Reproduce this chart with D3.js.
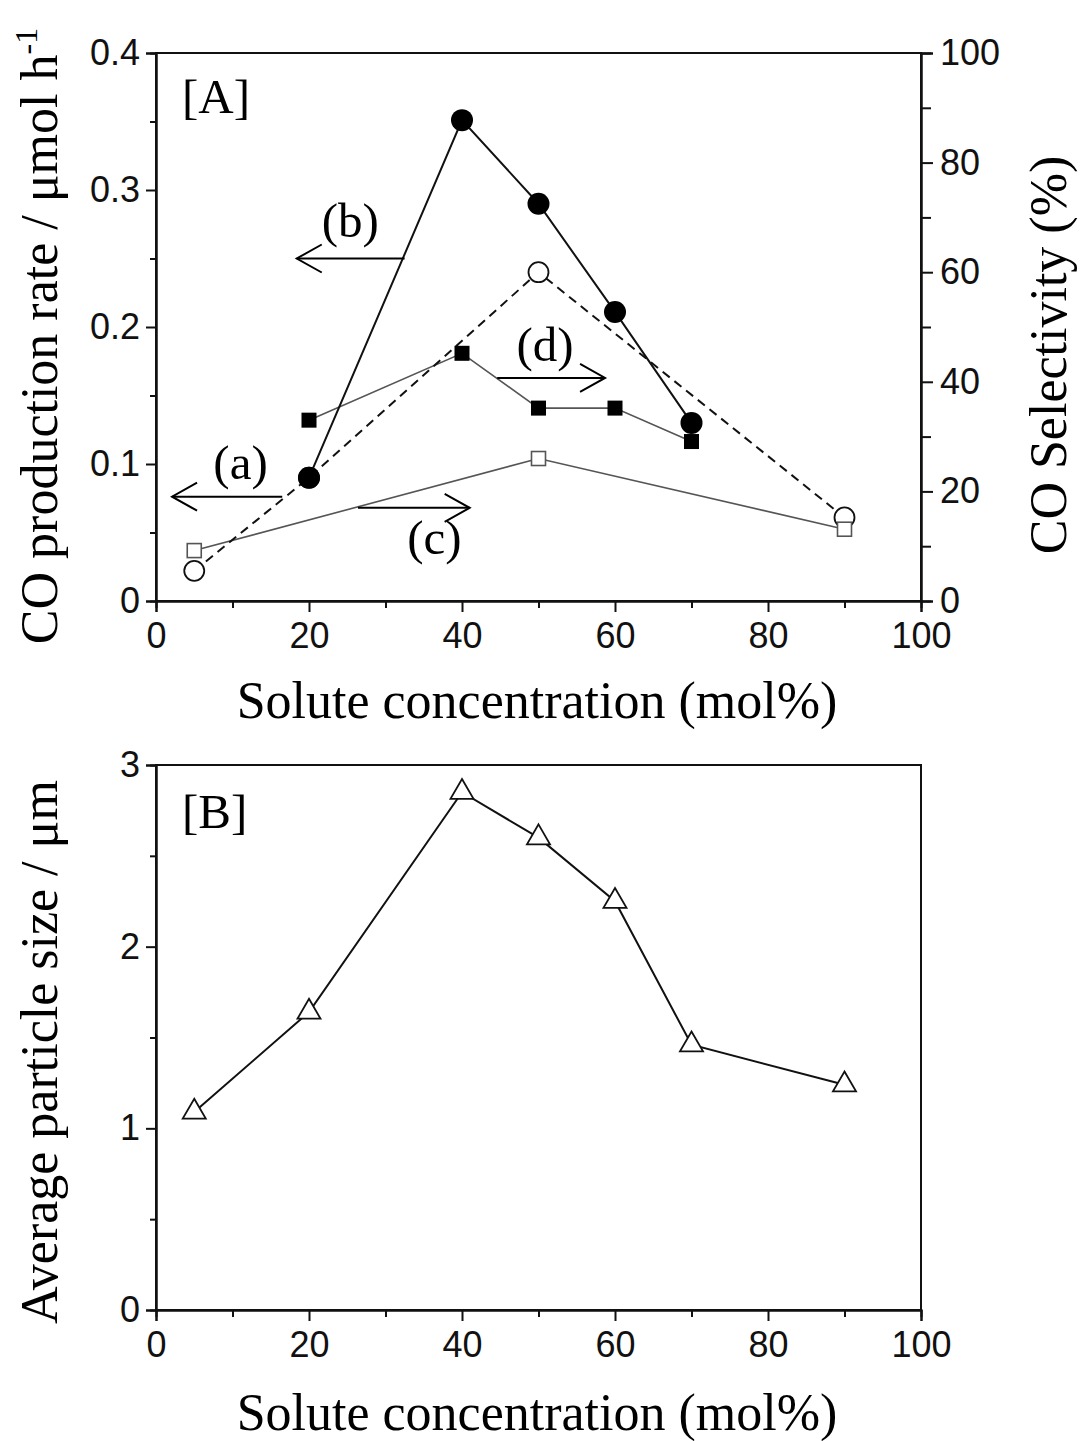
<!DOCTYPE html>
<html>
<head>
<meta charset="utf-8">
<script src="https://cdn.jsdelivr.net/npm/d3@7"></script>
<style>
  html, body { margin: 0; padding: 0; background: #fff; }
  svg { display: block; }
  .tick text { font-family: "Liberation Sans", Arial, Helvetica, sans-serif; font-size: 36px; fill: #111; }
</style>
</head>
<body>
<svg id="chart" width="1080" height="1441"></svg>
<script>
// Solute concentration (mol%) shared by both panels
const xTicks = [0, 20, 40, 60, 80, 100];
const xMinor = [10, 30, 50, 70, 90];

// Panel A, left axis: CO production rate / µmol h-1
const concA = [5, 20, 50, 90];
const rateA = [0.022, 0.090, 0.240, 0.061];        // (a) open circles, dashed
const concB = [20, 40, 50, 60, 70];
const rateB = [0.090, 0.351, 0.290, 0.211, 0.130]; // (b) filled circles

// Panel A, right axis: CO selectivity (%)
const concC = [5, 50, 90];
const selC = [9.2, 26.0, 13.1];                    // (c) open squares
const concD = [20, 40, 50, 60, 70];
const selD = [33.0, 45.2, 35.2, 35.2, 29.1];       // (d) filled squares

// Panel B: average particle size / µm
const concSize = [5, 20, 40, 50, 60, 70, 90];
const particleSize = [1.09, 1.64, 2.85, 2.60, 2.25, 1.46, 1.24];

const rateTicks = [0, 0.1, 0.2, 0.3, 0.4];
const rateMinor = [0.05, 0.15, 0.25, 0.35];
const selTicks = [0, 20, 40, 60, 80, 100];
const selMinor = [10, 30, 50, 70, 90];
const sizeTicks = [0, 1, 2, 3];
const sizeMinor = [0.5, 1.5, 2.5];

const SERIF = '"Liberation Serif", "Times New Roman", Times, serif';

const svg = d3.select("#chart");
const L = 156, R = 921;

const x = d3.scaleLinear().domain([0, 100]).range([L, R]);
const yRate = d3.scaleLinear().domain([0, 0.4]).range([601, 53]);
const ySel = d3.scaleLinear().domain([0, 100]).range([601, 53]);
const ySize = d3.scaleLinear().domain([0, 3]).range([1310, 765]);

const fmtRate = d => d === 0 ? "0" : d3.format(".1f")(d);

function styleAxis(g) {
  g.select(".domain").attr("stroke", "#111").attr("stroke-width", 2);
  g.selectAll(".tick line").attr("stroke", "#111").attr("stroke-width", 2);
}

function frame(yTop, yBot) {
  svg.append("rect")
    .attr("x", L).attr("y", yTop).attr("width", R - L).attr("height", yBot - yTop)
    .attr("fill", "none").attr("stroke", "#111").attr("stroke-width", 2);
}

function xAxis(yPos) {
  svg.append("g").attr("transform", `translate(0,${yPos})`)
    .call(d3.axisBottom(x).tickValues(xMinor).tickSize(7).tickFormat(""))
    .call(styleAxis);
  svg.append("g").attr("transform", `translate(0,${yPos})`)
    .call(d3.axisBottom(x).tickValues(xTicks).tickSize(11).tickPadding(10).tickFormat(d3.format("d")))
    .call(styleAxis);
}

function arrow(x1, x2, yPix) {
  const dir = x2 > x1 ? 1 : -1;
  svg.append("line").attr("x1", x1).attr("x2", x2).attr("y1", yPix).attr("y2", yPix)
    .attr("stroke", "#000").attr("stroke-width", 2);
  svg.append("polyline")
    .attr("points", `${x2 - dir * 25},${yPix - 14} ${x2},${yPix} ${x2 - dir * 25},${yPix + 14}`)
    .attr("fill", "none").attr("stroke", "#000").attr("stroke-width", 2);
}

function serifText(size) {
  return svg.append("text")
    .attr("font-family", SERIF).attr("font-size", size).attr("fill", "#000");
}

function label(txt, xPix, yPix, anchor) {
  serifText(49).attr("x", xPix).attr("y", yPix)
    .attr("text-anchor", anchor || "middle").text(txt);
}

// ---------- Panel A ----------
frame(53, 601);
xAxis(601);

svg.append("g").attr("transform", `translate(${L},0)`)
  .call(d3.axisLeft(yRate).tickValues(rateMinor).tickSize(6).tickFormat(""))
  .call(styleAxis);
svg.append("g").attr("transform", `translate(${L},0)`)
  .call(d3.axisLeft(yRate).tickValues(rateTicks).tickSize(10).tickPadding(6).tickFormat(fmtRate))
  .call(styleAxis);

svg.append("g").attr("transform", `translate(${R},0)`)
  .call(d3.axisRight(ySel).tickValues(selMinor).tickSize(10).tickFormat(""))
  .call(styleAxis);
svg.append("g").attr("transform", `translate(${R},0)`)
  .call(d3.axisRight(ySel).tickValues(selTicks).tickSize(12).tickPadding(7).tickFormat(d3.format("d")))
  .call(styleAxis);

const ptsA = concA.map((c, i) => [c, rateA[i]]);
const ptsB = concB.map((c, i) => [c, rateB[i]]);
const ptsC = concC.map((c, i) => [c, selC[i]]);
const ptsD = concD.map((c, i) => [c, selD[i]]);

const lineRate = d3.line().x(d => x(d[0])).y(d => yRate(d[1]));
const lineSel = d3.line().x(d => x(d[0])).y(d => ySel(d[1]));

svg.append("path").attr("d", lineSel(ptsC)).attr("fill", "none")
  .attr("stroke", "#555").attr("stroke-width", 1.6);
svg.append("path").attr("d", lineSel(ptsD)).attr("fill", "none")
  .attr("stroke", "#555").attr("stroke-width", 1.6);
svg.append("path").attr("d", lineRate(ptsA)).attr("fill", "none")
  .attr("stroke", "#111").attr("stroke-width", 2).attr("stroke-dasharray", "9,6");
svg.append("path").attr("d", lineRate(ptsB)).attr("fill", "none")
  .attr("stroke", "#111").attr("stroke-width", 2);

// (a) open circles
svg.append("g").selectAll("circle").data(ptsA).join("circle")
  .attr("cx", d => x(d[0])).attr("cy", d => yRate(d[1])).attr("r", 10)
  .attr("fill", "#fff").attr("stroke", "#111").attr("stroke-width", 1.8);
// (d) filled squares
svg.append("g").selectAll("rect").data(ptsD).join("rect")
  .attr("x", d => x(d[0]) - 7.5).attr("y", d => ySel(d[1]) - 7.5)
  .attr("width", 15).attr("height", 15).attr("fill", "#000");
// (b) filled circles
svg.append("g").selectAll("circle").data(ptsB).join("circle")
  .attr("cx", d => x(d[0])).attr("cy", d => yRate(d[1])).attr("r", 11)
  .attr("fill", "#000");
// (c) open squares
svg.append("g").selectAll("rect").data(ptsC).join("rect")
  .attr("x", d => x(d[0]) - 7).attr("y", d => ySel(d[1]) - 7)
  .attr("width", 14).attr("height", 14)
  .attr("fill", "#fff").attr("stroke", "#555").attr("stroke-width", 1.6);

// series labels with arrows toward their axes
label("[A]", x(3.4), yRate(0.356), "start");
label("(b)", x(25.4), yRate(0.266));
arrow(x(32.5), x(18.4), yRate(0.25));
label("(a)", x(11.05), yRate(0.089));
arrow(x(16.5), x(2.1), yRate(0.0761));
label("(c)", x(36.4), ySel(8.6));
arrow(x(26.4), x(41.0), ySel(17.0));
label("(d)", x(50.85), ySel(43.8));
arrow(x(44.6), x(58.7), ySel(40.7));

// axis titles
const tA = serifText(52).attr("text-anchor", "middle")
  .attr("transform", "translate(57,336) rotate(-90)");
tA.append("tspan").text("CO production rate / μmol h");
tA.append("tspan").attr("font-size", 32).attr("dy", -20).text("-1");

serifText(52).attr("text-anchor", "middle")
  .attr("transform", "translate(1066,355) rotate(-90)")
  .text("CO Selectivity (%)");

serifText(52).attr("text-anchor", "middle").attr("x", 537).attr("y", 718)
  .text("Solute concentration (mol%)");

// ---------- Panel B ----------
frame(765, 1310);
xAxis(1310);

svg.append("g").attr("transform", `translate(${L},0)`)
  .call(d3.axisLeft(ySize).tickValues(sizeMinor).tickSize(6).tickFormat(""))
  .call(styleAxis);
svg.append("g").attr("transform", `translate(${L},0)`)
  .call(d3.axisLeft(ySize).tickValues(sizeTicks).tickSize(10).tickPadding(6).tickFormat(d3.format("d")))
  .call(styleAxis);

const ptsSize = concSize.map((c, i) => [c, particleSize[i]]);
const lineSize = d3.line().x(d => x(d[0])).y(d => ySize(d[1]));
svg.append("path").attr("d", lineSize(ptsSize)).attr("fill", "none")
  .attr("stroke", "#111").attr("stroke-width", 2);

const tri = d3.symbol().type(d3.symbolTriangle).size(230);
svg.append("g").selectAll("path").data(ptsSize).join("path")
  .attr("d", tri)
  .attr("transform", d => `translate(${x(d[0])},${ySize(d[1])})`)
  .attr("fill", "#fff").attr("stroke", "#111").attr("stroke-width", 1.8);

label("[B]", x(3.4), ySize(2.653), "start");

serifText(52).attr("text-anchor", "middle")
  .attr("transform", "translate(57,1052) rotate(-90)")
  .text("Average particle size / μm");

serifText(52).attr("text-anchor", "middle").attr("x", 537).attr("y", 1430)
  .text("Solute concentration (mol%)");
</script>
</body>
</html>
